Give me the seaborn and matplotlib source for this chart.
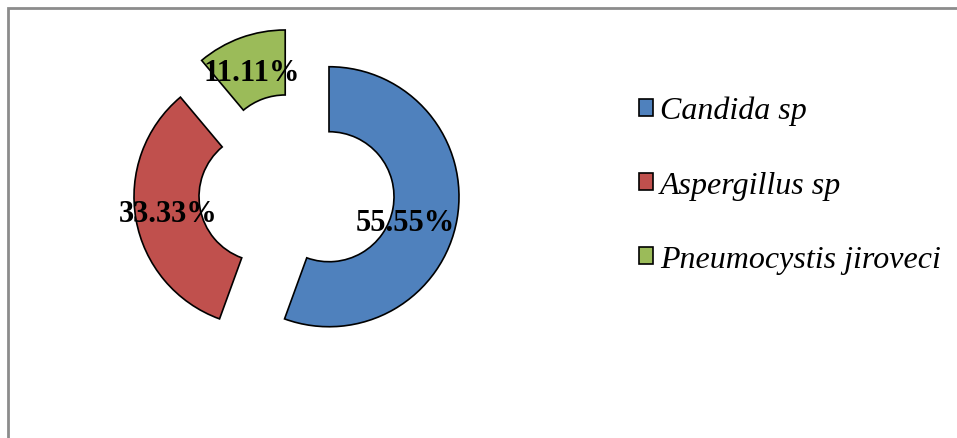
import matplotlib
matplotlib.use("Agg")
import matplotlib.pyplot as plt
from matplotlib.patches import Rectangle
import numpy as np
import seaborn as sns

# Fungal isolates share (%)
organisms = ["Candida sp", "Aspergillus sp", "Pneumocystis jiroveci"]
shares = [55.55, 33.33, 11.11]
colors = ["#4F81BD", "#C0504D", "#9BBB59"]

sns.set_style("white")
plt.rcParams["font.family"] = ["Liberation Serif", "DejaVu Serif"]
plt.rcParams["text.color"] = "black"

W, H = 957, 439
fig = plt.figure(figsize=(W / 100, H / 100), dpi=100)
ax = fig.add_axes([0, 0, 1, 1])

radius = 130
center = (296.5, H - 192)
wedges, _ = ax.pie(
    shares,
    colors=colors,
    startangle=90,
    counterclock=False,
    radius=radius,
    center=center,
    explode=[33, 33, 33],
    wedgeprops=dict(width=radius * 0.5, edgecolor="black", linewidth=1.2),
    frame=True,
)
ax.set_xlim(0, W)
ax.set_ylim(0, H)
ax.set_aspect("equal")
ax.axis("off")

# value labels placed along each ring segment
label_r = [0.62, 0.75, 0.72]
label_shift = [-8.5, 0, 1]
for w, v, lr, sh in zip(wedges, shares, label_r, label_shift):
    th = np.deg2rad((w.theta1 + w.theta2) / 2 + sh)
    cx, cy = w.center
    ax.text(cx + lr * radius * np.cos(th), cy + lr * radius * np.sin(th),
            f"{v:.2f}%", ha="center", va="center",
            fontsize=22, fontweight="bold", color="black")

leg = fig.legend(
    wedges, organisms,
    loc="upper left", bbox_to_anchor=(639 / W, 1 - 97 / H),
    frameon=False, prop=dict(size=23, style="italic"),
    handlelength=0.45, handleheight=0.45, handletextpad=0.2,
    labelspacing=1.42, borderaxespad=0, borderpad=0,
)
for h in leg.legend_handles:
    h.set_edgecolor("black")
    h.set_linewidth(1.2)
for t in leg.get_texts():
    t.set_color("black")

# outer frame of the chart area
fig.patches.append(Rectangle((8 / W, -0.2), 1.5, 1.2 - 9 / H,
                             transform=fig.transFigure, fill=False,
                             edgecolor="#8c8c8c", linewidth=2))

fig.savefig("out.png", dpi=100)
